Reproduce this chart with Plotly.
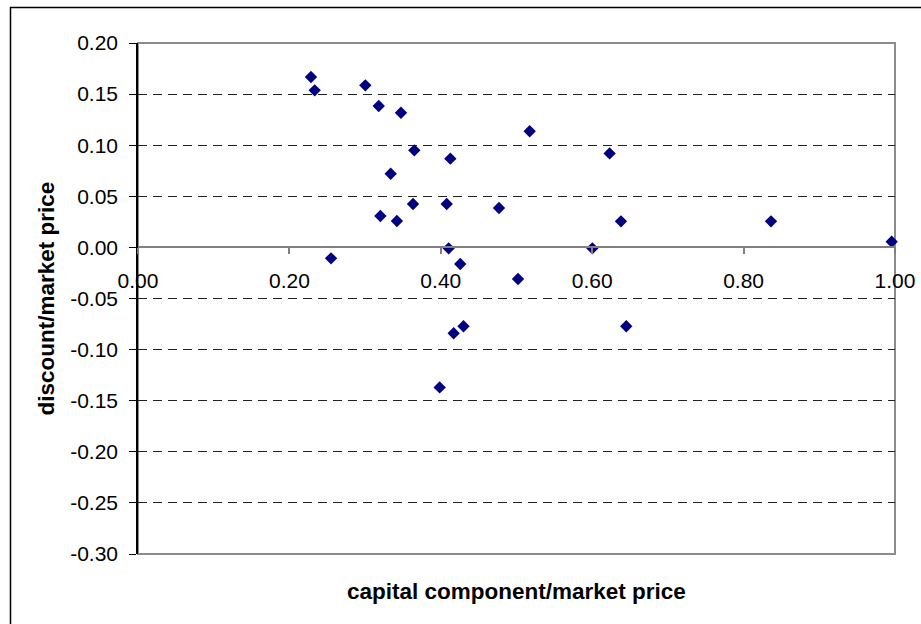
import plotly.graph_objects as go

# capital component / market price
capital_ratio = [0.2285, 0.2334, 0.3003, 0.318, 0.3474, 0.365, 0.4126, 0.5174, 0.623,
                 0.3338, 0.3202, 0.342, 0.3633, 0.4078, 0.4769, 0.638, 0.255, 0.4104,
                 0.4257, 0.502, 0.6002, 0.8362, 0.9956, 0.3985, 0.417, 0.430, 0.645]
# discount / market price
discount_ratio = [0.1667, 0.1537, 0.1586, 0.1384, 0.1318, 0.095, 0.0868, 0.1136, 0.092,
                  0.0721, 0.0307, 0.0258, 0.0425, 0.0425, 0.0386, 0.0255, -0.0107, -0.0009,
                  -0.0162, -0.0309, -0.0009, 0.0255, 0.0056, -0.137, -0.084, -0.0772, -0.0772]

x_ticks = [0.0, 0.2, 0.4, 0.6, 0.8, 1.0]
x_tick_labels = ["0.00", "0.20", "0.40", "0.60", "0.80", "1.00"]
y_ticks = [0.20, 0.15, 0.10, 0.05, 0.00, -0.05, -0.10, -0.15, -0.20, -0.25, -0.30]
y_tick_labels = ["0.20", "0.15", "0.10", "0.05", "0.00", "-0.05", "-0.10", "-0.15", "-0.20", "-0.25", "-0.30"]

x_title = "capital component/market price"
y_title = "discount/market price"

W, H = 921, 624
L, R, T, B = 138, 26, 43, 70
pw, ph = W - L - R, H - T - B

FONT = "Liberation Sans, Arial, sans-serif"

fig = go.Figure()
fig.add_trace(go.Scatter(
    x=capital_ratio, y=discount_ratio, mode="markers",
    marker=dict(symbol="diamond", size=9.5, color="#000080", line=dict(width=0)),
    showlegend=False, cliponaxis=False,
))

y_zero_pos = (0 - (-0.30)) / 0.50

fig.update_layout(
    width=W, height=H,
    margin=dict(l=L, r=R, t=T, b=B, pad=0, autoexpand=False),
    paper_bgcolor="white", plot_bgcolor="white",
    font=dict(family=FONT, size=21, color="black"),
    xaxis=dict(
        range=[0, 1], tickvals=x_ticks, ticktext=x_tick_labels,
        anchor="free", position=y_zero_pos, automargin=False,
        showline=True, linecolor="#808080", linewidth=1.5,
        ticks="outside", ticklen=6, tickcolor="#808080", tickwidth=1.5,
        showgrid=False, zeroline=False, ticklabelstandoff=9,
        tickfont=dict(family=FONT, size=21, color="black"),
    ),
    yaxis=dict(
        range=[-0.30, 0.20], tickvals=y_ticks, ticktext=y_tick_labels,
        automargin=False,
        showline=True, linecolor="black", linewidth=1.5,
        ticks="outside", ticklen=7, tickcolor="black", tickwidth=1.2,
        showgrid=True, gridcolor="#222222", gridwidth=1, griddash="9px,6px",
        zeroline=False, ticklabelstandoff=7,
        tickfont=dict(family=FONT, size=21, color="black"),
    ),
    shapes=[
        # plot area border
        dict(type="rect", xref="paper", yref="paper", x0=0, x1=1, y0=0, y1=1,
             line=dict(color="#8c8c8c", width=2), layer="below"),
        # cover gridlines at top/bottom border
        dict(type="line", xref="paper", yref="paper", x0=0, x1=1, y0=1, y1=1,
             line=dict(color="#8c8c8c", width=2), layer="above"),
        dict(type="line", xref="paper", yref="paper", x0=0, x1=1, y0=0, y1=0,
             line=dict(color="#8c8c8c", width=2), layer="above"),
        # outer chart frame
        dict(type="rect", xref="paper", yref="paper",
             x0=(10.5 - L) / pw, x1=(W + 10 - L) / pw,
             y0=-(H + 10 - T - ph) / ph, y1=(H - B - 7.5) / ph,
             line=dict(color="black", width=1.5), layer="below"),
    ],
    annotations=[
        dict(text="<b>" + x_title + "</b>", xref="paper", yref="paper",
             x=0.5, y=-(591 - (T + ph)) / ph, xanchor="center", yanchor="middle",
             showarrow=False, font=dict(family=FONT, size=22.5, color="black")),
        dict(text="<b>" + y_title + "</b>", xref="paper", yref="paper",
             x=(46 - L) / pw, y=0.5, xanchor="center", yanchor="middle", textangle=-90,
             showarrow=False, font=dict(family=FONT, size=22.5, color="black")),
    ],
)

fig.write_html("out.html", config={"displayModeBar": False},
               post_script="document.body.style.margin='0';")
